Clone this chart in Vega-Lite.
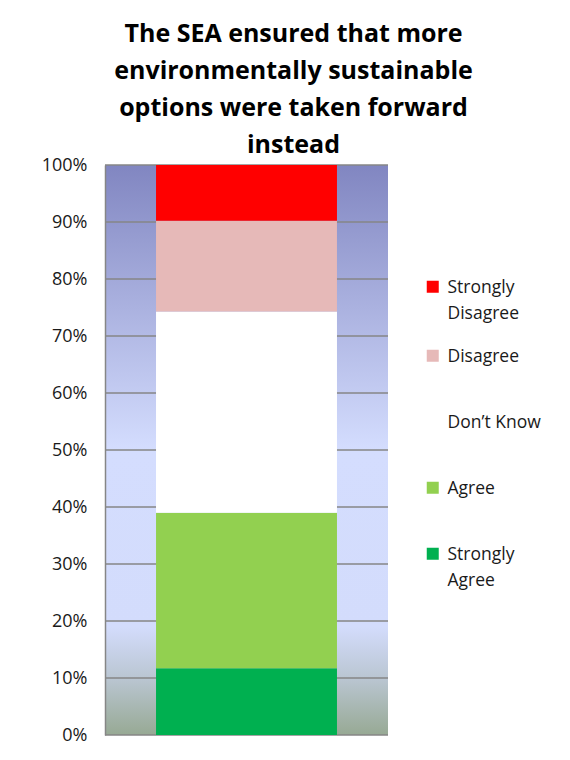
{
  "$schema": "https://vega.github.io/schema/vega-lite/v6.json",
  "description": "The SEA ensured that more environmentally sustainable options were taken forward instead",
  "width": 283,
  "height": 570,
  "autosize": {"type": "none"},
  "padding": {"left": 105, "top": 165, "right": 182, "bottom": 25},
  "background": "white",
  "title": {
    "text": ["The SEA ensured that more", "environmentally sustainable", "options were taken forward", "instead"],
    "font": "Open Sans",
    "fontSize": 25,
    "fontWeight": "bold",
    "color": "black",
    "lineHeight": 37,
    "anchor": "middle",
    "dx": 47,
    "baseline": "bottom",
    "offset": -27
  },
  "layer": [
    {
      "data": {"values": [{"from": 0, "to": 100}]},
      "mark": {
        "type": "rect",
        "fill": {
          "gradient": "linear",
          "x1": 0, "y1": 0, "x2": 0, "y2": 1,
          "stops": [
            {"offset": 0, "color": "#8186C1"},
            {"offset": 0.5, "color": "#D4DDFE"},
            {"offset": 0.81, "color": "#D3DCFC"},
            {"offset": 0.9, "color": "#BAC6D2"},
            {"offset": 1, "color": "#97A994"}
          ]
        }
      },
      "encoding": {
        "y": {
          "field": "from",
          "type": "quantitative",
          "scale": {"domain": [0, 100], "nice": false},
          "axis": {
            "title": null,
            "values": [0, 10, 20, 30, 40, 50, 60, 70, 80, 90, 100],
            "labelExpr": "datum.value + '%'",
            "labelFont": "Open Sans",
            "labelFontSize": 18,
            "labelColor": "#1a1a1a",
            "labelPadding": 18,
            "ticks": false,
            "grid": false,
            "domainColor": "#868686",
            "domainWidth": 1.5,
            "zindex": 1
          }
        },
        "y2": {"field": "to"}
      }
    },
    {
      "data": {"values": [{"v": 0}, {"v": 10}, {"v": 20}, {"v": 30}, {"v": 40}, {"v": 50}, {"v": 60}, {"v": 70}, {"v": 80}, {"v": 90}, {"v": 100}]},
      "mark": {"type": "rule", "color": "#868686", "strokeWidth": 1.5},
      "encoding": {"y": {"field": "v", "type": "quantitative", "title": null}}
    },
    {
      "data": {
        "values": [
          {"question": "SEA", "response": "Strongly Agree", "rank": 1, "pct": 11.7},
          {"question": "SEA", "response": "Agree", "rank": 2, "pct": 27.3},
          {"question": "SEA", "response": "Don’t Know", "rank": 3, "pct": 35.3},
          {"question": "SEA", "response": "Disagree", "rank": 4, "pct": 15.9},
          {"question": "SEA", "response": "Strongly Disagree", "rank": 5, "pct": 9.8}
        ]
      },
      "mark": {"type": "bar"},
      "encoding": {
        "x": {
          "field": "question",
          "type": "nominal",
          "axis": null,
          "scale": {"paddingInner": 0, "paddingOuter": 0.282}
        },
        "y": {"field": "pct", "type": "quantitative", "stack": "zero", "title": null},
        "order": {"field": "rank", "type": "quantitative"},
        "color": {
          "field": "response",
          "type": "nominal",
          "scale": {
            "domain": ["Strongly Disagree", "Disagree", "Don’t Know", "Agree", "Strongly Agree"],
            "range": ["#FF0000", "#E6B9B8", "#FFFFFF", "#92D050", "#00B050"]
          },
          "legend": {
            "title": null,
            "orient": "none",
            "legendX": 319,
            "legendY": 89,
            "padding": 0,
            "symbolType": "square",
            "symbolSize": 144,
            "symbolStrokeWidth": 0,
            "symbolOpacity": 1,
            "labelFont": "Open Sans",
            "labelFontSize": 17.5,
            "labelColor": "#1a1a1a",
            "labelOffset": 6,
            "labelLimit": 200,
            "labelBaseline": "alphabetic",
            "clipHeight": 65.5,
            "rowPadding": 0,
            "labelExpr": "datum.label == 'Strongly Disagree' ? ['Strongly', 'Disagree'] : datum.label == 'Strongly Agree' ? ['Strongly', 'Agree'] : datum.label",
            "encode": {
              "labels": {"update": {"dy": {"value": 6}, "lineHeight": {"value": 26}}}
            }
          }
        }
      }
    }
  ],
  "config": {"view": {"stroke": null}}
}
